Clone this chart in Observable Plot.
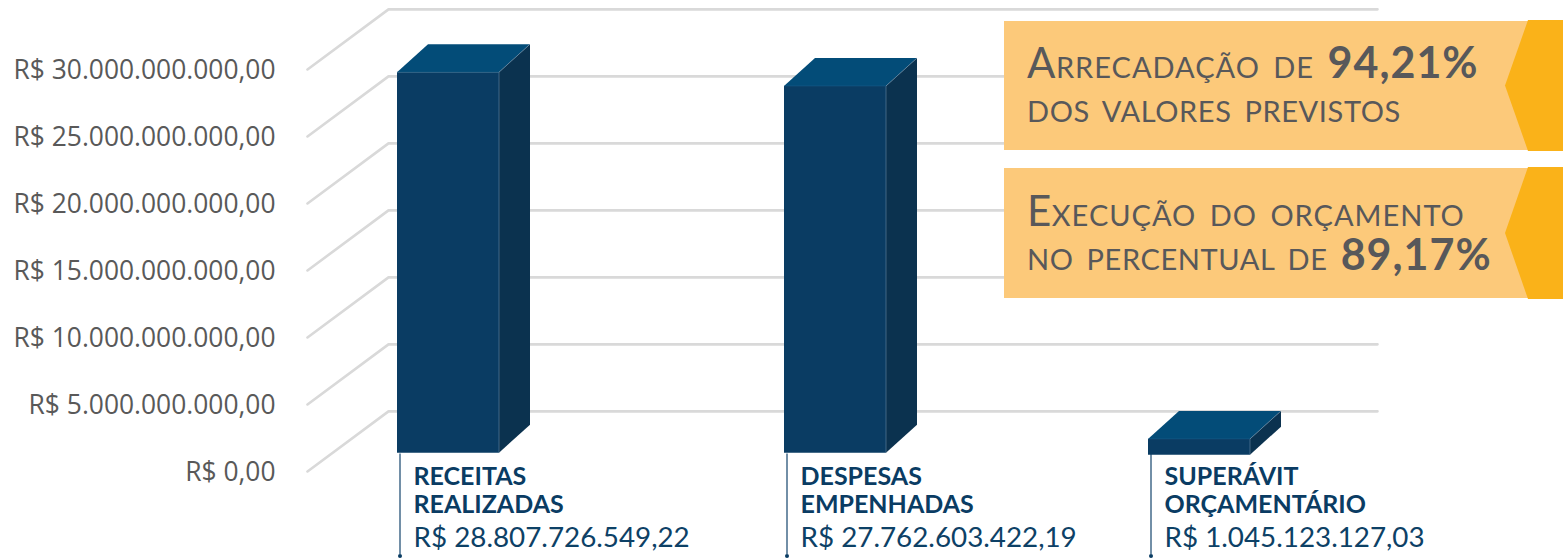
<!DOCTYPE html>
<html lang="pt-BR">
<head>
<meta charset="utf-8">
<script src="https://cdn.jsdelivr.net/npm/d3@7"></script>
<script src="https://cdn.jsdelivr.net/npm/@observablehq/plot@0.6"></script>
<style>
html,body{margin:0;padding:0;background:#fff}
svg{display:block}
</style>
</head>
<body>
<div id="chart"></div>
<script>
// Data
const categories = ["RECEITAS\nREALIZADAS", "DESPESAS\nEMPENHADAS", "SUPERÁVIT\nORÇAMENTÁRIO"];
const values = [28807726549.22, 27762603422.19, 1045123127.03];
const valueLabels = ["R$ 28.807.726.549,22", "R$ 27.762.603.422,19", "R$ 1.045.123.127,03"];
const yTicks = [0, 5e9, 10e9, 15e9, 20e9, 25e9, 30e9];
const slots = [0, 1, 2];
const callouts = [
  {top: 21, h: 129, shift: 0, lines: [
    [["A", "big"], ["rrecadação de ", "scw"], ["94,21%", "num"]],
    [["dos valores previstos", "sc"]]]},
  {top: 168, h: 130, shift: 1, lines: [
    [["E", "big"], ["xecução do orçamento", "scw"]],
    [["no percentual de ", "sc"], ["89,17%", "num"]]]}
];

// Layout constants
const FONT = "Lato, 'Open Sans', sans-serif";
const WALL_DEPTH = 4.49e9;     // back wall raise, in value units
const WALL_FRONT = -2, WALL_BACK = -1, WALL_END = 3;
const navy = "#0a3c63";

const grid = yTicks.flatMap(v => [
  {v, x: WALL_FRONT, y: v},
  {v, x: WALL_BACK, y: v + WALL_DEPTH},
  {v, x: WALL_END, y: v + WALL_DEPTH}
]);
const bars = slots.map(i => ({i, value: values[i]}));

function prisms(index, scales, channels, dims) {
  const g = d3.create("svg:g");
  const W = 102, DX = 31, DY = 28;
  const BASE = 18.3, K = 13.21 / 13.4;
  bars.forEach(b => {
    const x0 = scales.x(b.i), x1 = x0 + W;
    const y0 = scales.y(0) - BASE;
    const yt = y0 - (scales.y(0) - scales.y(b.value)) * K;
    const yb = b.value < 3e9 ? y0 + 2 : y0;
    const face = (pts, fill) => g.append("polygon").attr("points", pts.map(p => p.join(",")).join(" ")).attr("fill", fill);
    face([[x0, yt], [x1, yt], [x1 + DX, yt - DY], [x0 + DX, yt - DY]], "#034c78");
    face([[x1, yt], [x1 + DX, yt - DY], [x1 + DX, yb - DY], [x1, yb]], "#0b324f");
    face([[x0, yt], [x1, yt], [x1, yb], [x0, yb]], navy);
    g.append("path").attr("d", `M${x1},${yb}V${yt}L${x1 + DX},${yt - DY}`)
      .attr("fill", "none").attr("stroke", "#7f9db5").attr("stroke-opacity", 0.6).attr("stroke-width", 0.8);
    g.append("path").attr("d", `M${x1},${yt}H${x0}`)
      .attr("fill", "none").attr("stroke", "#1f5f8b").attr("stroke-opacity", 0.6).attr("stroke-width", 0.8);
  });
  return g.node();
}

function boxes() {
  const g = d3.create("svg:g").attr("font-family", FONT).attr("text-anchor", "start");
  const left = 1004, body = 1530, tip = 1505, notch = 1528, right = 1563;
  callouts.forEach(c => {
    g.append("rect").attr("x", left).attr("y", c.top).attr("width", body - left).attr("height", c.h).attr("fill", "#fcc97a");
    g.append("polygon")
      .attr("points", [[notch, c.top - 1], [right, c.top - 1], [right, c.top + c.h + 1], [notch, c.top + c.h + 1], [tip, c.top + c.h * 0.5]].map(p => p.join(",")).join(" "))
      .attr("fill", "#fab219");
    c.lines.forEach((line, li) => {
      const t = g.append("text").attr("x", left + 23).attr("y", c.top + c.shift + (li === 0 ? 57 : 101))
        .attr("fill", "#58585a").attr("xml:space", "preserve");
      line.forEach(([s, kind]) => {
        const span = t.append("tspan").text(s);
        if (kind === "big") span.attr("font-size", 42).attr("letter-spacing", 0.5);
        if (kind === "sc") span.style("text-transform", "uppercase").attr("font-size", 29).attr("letter-spacing", 0.6).attr("word-spacing", 5);
        if (kind === "scw") span.style("text-transform", "uppercase").attr("font-size", 29).attr("letter-spacing", 1).attr("word-spacing", 5);
        if (kind === "num") span.attr("font-size", 43).attr("font-weight", 700).attr("letter-spacing", 1);
      });
    });
  });
  return g.node();
}

const chart = Plot.plot({
  width: 1563,
  height: 558,
  marginTop: 0, marginRight: 0, marginBottom: 0, marginLeft: 307,
  style: {background: "#fff", fontFamily: FONT, overflow: "visible"},
  x: {type: "linear", axis: null, domain: [WALL_FRONT, WALL_BACK, 0, 1, 2, WALL_END], range: [307, 388, 397, 784, 1148, 1377]},
  y: {domain: [0, 30e9], range: [471, 69]},
  marks: [
    Plot.line(grid, {x: "x", y: "y", z: "v", stroke: "#d9d9d9", strokeWidth: 2.6, strokeLinejoin: "miter"}),
    Plot.axisY({
      ticks: yTicks,
      tickSize: 0,
      tickPadding: 32,
      label: null,
      fontSize: 26.4,
      fontFamily: "'Open Sans', sans-serif",
      fill: "#595959",
      dy: 1.5,
      tickFormat: d => "R$ " + d3.format(",.2f")(d).replace(/,/g, "§").replace(".", ",").replace(/§/g, ".")
    }),
    Plot.ruleX(slots, {x: d => d, dx: 2.5, y1: 1.3e9, y2: -6.2e9, stroke: "#4f7391", strokeWidth: 1.6}),
    Plot.dot(slots, {x: d => d, dx: 2.5, y: () => -6.3e9, r: 2, fill: navy}),
    Plot.rect([0], {render: prisms, x1: () => 0, x2: () => 0}),
    Plot.text(slots, {
      x: d => d, y: () => 0.52e9, dx: 16,
      text: d => categories[d], textAnchor: "start", lineAnchor: "top",
      fontSize: 25, fontWeight: 700, fill: navy, lineHeight: 1.13
    }),
    Plot.text(slots, {
      x: d => d, y: () => -4.95e9, dx: 16,
      text: d => valueLabels[d], textAnchor: "start", lineAnchor: "middle",
      fontSize: 27.8, fill: "#0d4166"
    }),
    Plot.rect([0], {render: boxes, x1: () => 0, x2: () => 0})
  ]
});
document.getElementById("chart").appendChild(chart);
</script>
</body>
</html>
